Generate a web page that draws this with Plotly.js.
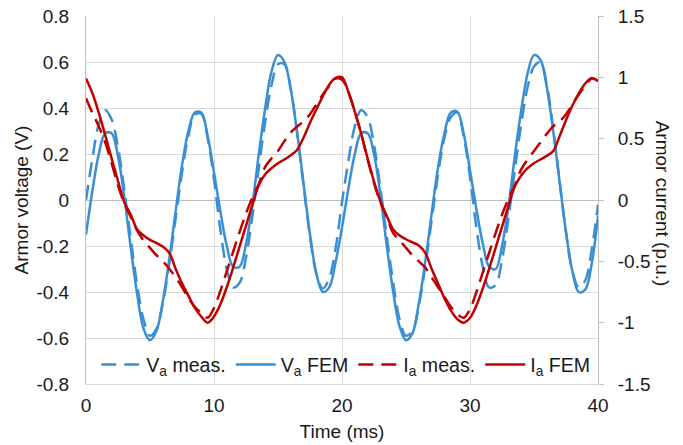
<!DOCTYPE html>
<html>
<head>
<meta charset="utf-8">
<script src="https://cdn.plot.ly/plotly-3.0.1.min.js"></script>
<style>html,body{margin:0;padding:0;background:#fff;}#chart{width:683px;height:445px;}</style>
</head>
<body>
<div id="chart"></div>
<script>
// Time axis (ms)
const timeMs = [0,0.5,1,1.5,2,2.5,3,3.5,4,4.5,5,5.5,6,6.5,7,7.5,8,8.5,9,9.5,
  10,10.5,11,11.5,12,12.5,13,13.5,14,14.5,15,15.5,16,16.5,17,17.5,18,18.5,19,19.5,
  20,20.5,21,21.5,22,22.5,23,23.5,24,24.5,25,25.5,26,26.5,27,27.5,28,28.5,29,29.5,
  30,30.5,31,31.5,32,32.5,33,33.5,34,34.5,35,35.5,36,36.5,37,37.5,38,38.5,39,39.5,40];

// Armor voltage, measured (V)
const vaMeas = [0.00,0.18,0.33,0.39,0.35,0.23,0.04,-0.17,-0.37,-0.52,-0.59,-0.56,-0.45,-0.28,-0.08,0.12,0.28,0.37,0.375,0.27,
  0.09,-0.13,-0.30,-0.38,-0.36,-0.25,-0.07,0.14,0.34,0.50,0.59,0.59,0.48,0.29,0.06,-0.16,-0.32,-0.385,-0.34,-0.21,
  -0.01,0.17,0.32,0.39,0.36,0.24,0.05,-0.16,-0.36,-0.52,-0.59,-0.57,-0.46,-0.29,-0.09,0.11,0.27,0.36,0.38,0.28,
  0.10,-0.12,-0.29,-0.38,-0.37,-0.26,-0.08,0.13,0.33,0.49,0.58,0.60,0.50,0.31,0.08,-0.14,-0.31,-0.38,-0.35,-0.22,-0.02];

// Armor voltage, FEM (V)
const vaFem = [-0.15,0.04,0.20,0.29,0.29,0.19,0.01,-0.21,-0.41,-0.56,-0.61,-0.57,-0.44,-0.26,-0.05,0.15,0.30,0.38,0.38,0.28,
  0.12,-0.05,-0.20,-0.29,-0.29,-0.19,-0.02,0.20,0.40,0.56,0.63,0.60,0.48,0.29,0.07,-0.15,-0.32,-0.40,-0.38,-0.27,
  -0.12,0.05,0.20,0.29,0.29,0.20,0.02,-0.20,-0.40,-0.55,-0.61,-0.58,-0.45,-0.27,-0.06,0.14,0.29,0.38,0.385,0.29,
  0.13,-0.04,-0.19,-0.29,-0.30,-0.20,-0.03,0.19,0.39,0.55,0.63,0.61,0.49,0.30,0.08,-0.14,-0.31,-0.40,-0.39,-0.28,-0.07];

// Armor current, measured (p.u.)
const iaMeas = [0.83,0.71,0.60,0.47,0.30,0.12,-0.03,-0.14,-0.25,-0.33,-0.39,-0.45,-0.50,-0.56,-0.63,-0.71,-0.80,-0.87,-0.92,-0.96,
  -0.88,-0.74,-0.58,-0.42,-0.26,-0.11,0.02,0.13,0.27,0.34,0.40,0.48,0.55,0.60,0.64,0.70,0.78,0.86,0.93,0.99,
  0.98,0.88,0.72,0.54,0.33,0.14,-0.02,-0.14,-0.27,-0.33,-0.39,-0.45,-0.50,-0.55,-0.63,-0.71,-0.79,-0.87,-0.93,-0.96,
  -0.89,-0.75,-0.59,-0.43,-0.27,-0.12,0.01,0.12,0.25,0.33,0.40,0.47,0.54,0.60,0.64,0.70,0.78,0.86,0.93,0.99,0.97];

// Armor current, FEM (p.u.)
const iaFem = [0.99,0.87,0.71,0.53,0.34,0.155,-0.02,-0.12,-0.24,-0.29,-0.325,-0.35,-0.38,-0.43,-0.56,-0.68,-0.78,-0.88,-0.95,-1.0,
  -0.95,-0.85,-0.71,-0.55,-0.38,-0.21,-0.04,0.12,0.21,0.26,0.30,0.33,0.365,0.41,0.51,0.63,0.74,0.845,0.94,0.995,
  1.0,0.88,0.72,0.54,0.34,0.15,-0.01,-0.13,-0.24,-0.29,-0.32,-0.345,-0.37,-0.43,-0.56,-0.68,-0.80,-0.90,-0.97,-1.0,
  -0.96,-0.86,-0.72,-0.56,-0.39,-0.22,-0.05,0.11,0.20,0.26,0.30,0.33,0.36,0.40,0.52,0.65,0.77,0.87,0.95,0.995,0.97];

// Tick labels
const xTicks = [0,10,20,30,40];
const xTickText = ['0','10','20','30','40'];
const vTicks = [-0.8,-0.6,-0.4,-0.2,0,0.2,0.4,0.6,0.8];
const vTickText = ['-0.8','-0.6','-0.4','-0.2','0','0.2','0.4','0.6','0.8'];
const iTicks = [-1.5,-1,-0.5,0,0.5,1,1.5];
const iTickText = ['-1.5','-1','-0.5','0','0.5','1','1.5'];

const names = ['V<sub>a</sub> meas.','V<sub>a</sub> FEM','I<sub>a</sub> meas.','I<sub>a</sub> FEM'];

const BLUE = '#3a8fd4';
const RED = '#c00000';
const LW = 2.5;
const DASH = '15px,8px';

const traces = [
  {x: timeMs, y: vaMeas, name: names[0], type: 'scatter', mode: 'lines', yaxis: 'y',
   line: {color: BLUE, width: LW, dash: DASH, shape: 'spline', smoothing: 1}},
  {x: timeMs, y: vaFem, name: names[1], type: 'scatter', mode: 'lines', yaxis: 'y',
   line: {color: BLUE, width: LW, shape: 'spline', smoothing: 1}},
  {x: timeMs, y: iaMeas, name: names[2], type: 'scatter', mode: 'lines', yaxis: 'y2',
   line: {color: RED, width: LW, dash: DASH, shape: 'spline', smoothing: 1}},
  {x: timeMs, y: iaFem, name: names[3], type: 'scatter', mode: 'lines', yaxis: 'y2',
   line: {color: RED, width: LW, shape: 'spline', smoothing: 1}}
];

const FONT = 'Liberation Sans, Arial, Helvetica, sans-serif';
const TXT = '#1a1a1a';

const layout = {
  width: 683, height: 445,
  margin: {l: 86, r: 85, t: 16, b: 61, pad: 0},
  paper_bgcolor: '#ffffff', plot_bgcolor: '#ffffff',
  font: {family: FONT, size: 19, color: TXT},
  showlegend: true,
  legend: {orientation: 'h', x: 0.02, y: 0.052, xanchor: 'left', yanchor: 'middle',
           bgcolor: 'rgba(0,0,0,0)', font: {family: FONT, size: 19.6, color: TXT},
           itemwidth: 40, traceorder: 'normal'},
  xaxis: {range: [0, 40], tickvals: xTicks, ticktext: xTickText, showgrid: true,
          gridcolor: '#d9d9d9', gridwidth: 1, zeroline: false, showline: true,
          linecolor: '#d9d9d9', linewidth: 1, ticks: '', ticklabelstandoff: 4,
          title: {text: 'Time (ms)', font: {family: FONT, size: 19, color: TXT}, standoff: 9},
          automargin: false, fixedrange: true},
  yaxis: {range: [-0.8, 0.8], tickvals: vTicks, ticktext: vTickText, showgrid: true,
          gridcolor: '#d9d9d9', gridwidth: 1, zeroline: true, zerolinecolor: '#bfbfbf',
          zerolinewidth: 1, showline: true, linecolor: '#bfbfbf', linewidth: 1, ticks: '',
          ticklabelstandoff: 12,
          title: {text: 'Armor voltage (V)', font: {family: FONT, size: 19, color: TXT}, standoff: 2},
          automargin: false, fixedrange: true},
  yaxis2: {range: [-1.5, 1.5], tickvals: iTicks, ticktext: iTickText, overlaying: 'y',
           side: 'right', showgrid: false, zeroline: false, showline: true,
           linecolor: '#bfbfbf', linewidth: 1, ticks: 'outside', ticklen: 5,
           tickcolor: '#bfbfbf', tickwidth: 1, ticklabelstandoff: 10,
           automargin: false, fixedrange: true},
  annotations: [
    {text: 'Armor current (p.u.)', xref: 'paper', yref: 'paper', x: 1.125, y: 0.49,
     xanchor: 'center', yanchor: 'middle', textangle: 90, showarrow: false,
     font: {family: FONT, size: 19, color: TXT}}
  ]
};

Plotly.newPlot('chart', traces, layout, {displayModeBar: false, staticPlot: true});
</script>
</body>
</html>
